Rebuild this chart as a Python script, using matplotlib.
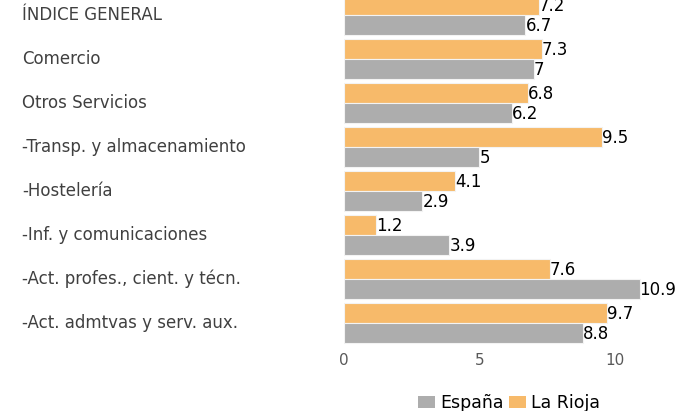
import matplotlib
matplotlib.use("Agg")
import matplotlib.pyplot as plt
from matplotlib.patches import Patch
import matplotlib.transforms as mtransforms

plt.rcParams['font.family'] = ['DejaVu Sans']

categories = ["ÍNDICE GENERAL", "Comercio", "Otros Servicios",
              "-Transp. y almacenamiento", "-Hostelería",
              "-Inf. y comunicaciones", "-Act. profes., cient. y técn.",
              "-Act. admtvas y serv. aux."]
la_rioja = [7.2, 7.3, 6.8, 9.5, 4.1, 1.2, 7.6, 9.7]
espana = [6.7, 7.0, 6.2, 5.0, 2.9, 3.9, 10.9, 8.8]
xticks = [0, 5, 10]

c_es = "#ADADAD"
c_lr = "#F7BA6A"

W, H = 691, 411
fig = plt.figure(figsize=(W / 100, H / 100), dpi=100)

x0_px, scale = 343.5, 27.16
xmax = 12
ylim_bottom, ylim_top = 7.55, -0.55
ypx = 44.0
bottom_px = 15 + ypx * ylim_bottom
top_px = 15 + ypx * ylim_top
ax = fig.add_axes([x0_px / W, (H - bottom_px) / H, xmax * scale / W,
                   (bottom_px - top_px) / H])

n = len(categories)
ys = list(range(n))
bh = 0.445
off = 0.2225
ax.barh([y - off for y in ys], la_rioja, height=bh, color=c_lr,
        edgecolor="#F3F3F3", linewidth=0.8)
ax.barh([y + off for y in ys], espana, height=bh, color=c_es,
        edgecolor="#F3F3F3", linewidth=0.8)

for y, v in zip(ys, la_rioja):
    ax.text(v, y - off + 0.02, f"{v:g}", va="center", ha="left",
            fontsize=12, color="black")
for y, v in zip(ys, espana):
    ax.text(v, y + off + 0.02, f"{v:g}", va="center", ha="left",
            fontsize=12, color="black")

trans = mtransforms.blended_transform_factory(fig.transFigure, ax.transData)
for y, c in zip(ys, categories):
    ax.text(22 / W, y, c, transform=trans, ha="left", va="center",
            fontsize=12, color="#404040")

ax.set_xlim(0, xmax)
ax.set_ylim(ylim_bottom, ylim_top)
ax.set_xticks(xticks)
ax.set_xticklabels([str(t) for t in xticks])
ax.set_yticks([])
ax.tick_params(axis="x", length=0, labelsize=11, labelcolor="#595959", pad=4)
for s in ax.spines.values():
    s.set_visible(False)

handles = [Patch(facecolor=c_es, edgecolor="none"),
           Patch(facecolor=c_lr, edgecolor="none")]
fig.legend(handles, ["España", "La Rioja"], loc="center",
           bbox_to_anchor=(509 / W, 8 / H), ncol=2, frameon=False,
           fontsize=12.5, handlelength=0.98, handleheight=0.7,
           handletextpad=0.3, columnspacing=0.3, borderpad=0)

fig.savefig("out.png", dpi=100)
